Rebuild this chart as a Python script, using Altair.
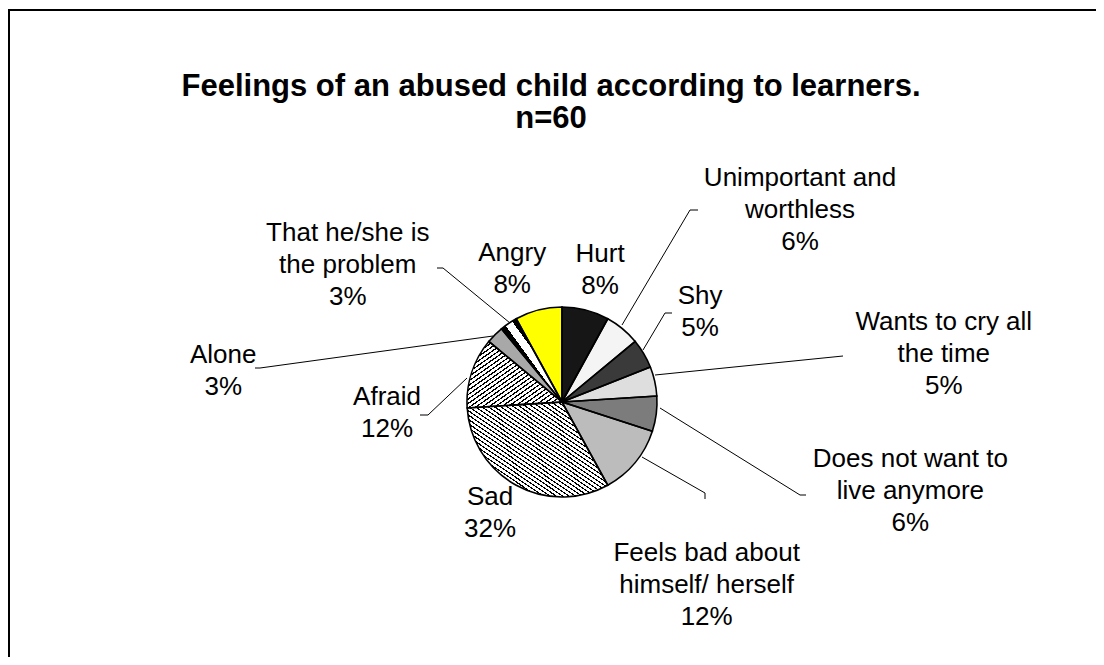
import math
import altair as alt
import pandas as pd

# ---------------- data ----------------
categories = [
    "Hurt", "Unimportant and worthless", "Shy", "Wants to cry all the time",
    "Does not want to live anymore", "Feels bad about himself/ herself",
    "Sad", "Afraid", "Alone", "That he/she is the problem", "Angry",
]
percent = [8, 6, 5, 5, 6, 12, 32, 12, 3, 3, 8]
label_names = [
    "Hurt", "Unimportant and\nworthless", "Shy", "Wants to cry all\nthe time",
    "Does not want to\nlive anymore", "Feels bad about\nhimself/ herself",
    "Sad", "Afraid", "Alone", "That he/she is\nthe problem", "Angry",
]
title_lines = "Feelings of an abused child according to learners.\nn=60"

# ---------------- layout / style ----------------
W, H = 1068, 510
PAD = {"left": 20, "top": 139, "right": 0, "bottom": 0}
R = 95
FONT = "Arial, Liberation Sans, sans-serif"
fills = ["#161616", "#f4f4f4", "#3a3a3a", "#dedede", "#7c7c7c", "#bcbcbc",
         "#ffffff", "#ffffff", "#a8a8a8", "#ffffff", "#ffff00"]
# label placement of the first text line
# (polar: degrees clockwise from 12 o'clock, pixels from the pie centre)
label_angle = [14.4, 46.7, 52.5, 78.2, 99.3, 136.2, 217.2, 271.6, 277.9, 308.3, 341.5]
label_radius = [153, 327, 174, 390, 353, 209, 119, 175, 342, 273, 157]
# leader lines: offsets from the pie centre
leaders = {
    "Unimportant": [(60, -77), (128, -192), (136, -192)],
    "Shy": [(81, -52), (103, -89), (110, -89)],
    "Wants": [(93, -27), (281, -46)],
    "Doesnot": [(98, 6), (238, 93), (244, 93)],
    "Feels": [(80, 55), (143, 91), (143, 97)],
    "Afraid": [(-95, -24), (-134, 13), (-142, 13)],
    "Alone": [(-69, -66), (-302, -34), (-307, -34)],
    "That": [(-52, -79), (-119, -134), (-125, -134)],
}


def stripes(n, frac, fg, bg, x1, y1, x2, y2):
    stops = []
    for k in range(n):
        s = k / n
        m = s + frac / n
        e = (k + 1) / n
        stops += [{"offset": s, "color": fg}, {"offset": m, "color": fg},
                  {"offset": m, "color": bg}, {"offset": e, "color": bg}]
    return {"gradient": "linear", "x1": x1, "y1": y1, "x2": x2, "y2": y2,
            "stops": stops}


stripe_fills = {
    "Sad": stripes(44, 0.32, "#000000", "#ffffff", 0, 1, 1, 0),
    "Afraid": stripes(30, 0.35, "#000000", "#ffffff", 0, 0, 1, 1),
    "That he/she is the problem": stripes(7, 0.45, "#000000", "#ffffff", 0, 1, 1, 0),
}

labels = [f"{n}\n{p}%" for n, p in zip(label_names, percent)]
df = pd.DataFrame({
    "category": categories,
    "percent": percent,
    "order": list(range(len(categories))),
    "label": labels,
    "label_angle": label_angle,
    "label_r": label_radius,
})

rows = []
cx, cy = W / 2, H / 2
for name, pts in leaders.items():
    for i, (dx, dy) in enumerate(pts):
        rows.append({"lead": name, "pt": i, "x": cx + dx, "y": cy + dy})
lead_df = pd.DataFrame(rows)

theta_scale = alt.Scale(domain=[0, 100], range=[0, 2 * math.pi])

base = alt.Chart(df).transform_window(
    cum="sum(percent)", sort=[alt.SortField("order")], frame=[None, 0]
).transform_calculate(start="datum.cum - datum.percent",
                      label_t="datum.label_angle / 3.6")

arcs = base.mark_arc(outerRadius=R).encode(
    theta=alt.Theta("start:Q", scale=theta_scale),
    theta2="cum:Q",
    color=alt.Color("category:N", scale=alt.Scale(domain=categories, range=fills),
                    legend=None),
)

stripe_layers = [
    base.transform_filter(alt.datum.category == cat).mark_arc(
        outerRadius=R, fill=grad).encode(
        theta=alt.Theta("start:Q", scale=theta_scale), theta2="cum:Q")
    for cat, grad in stripe_fills.items()
]

outline = base.mark_arc(outerRadius=R, fillOpacity=0, stroke="black",
                        strokeWidth=1.6).encode(
    theta=alt.Theta("start:Q", scale=theta_scale), theta2="cum:Q")

text = base.mark_text(font=FONT, fontSize=26, lineBreak="\n", lineHeight=32,
                      align="center", baseline="middle", color="black").encode(
    theta=alt.Theta("label_t:Q", scale=theta_scale),
    radius=alt.Radius("label_r:Q", scale=None),
    text="label:N",
)

lines = alt.Chart(lead_df).mark_line(color="black", strokeWidth=1).encode(
    x=alt.X("x:Q", scale=None, axis=None),
    y=alt.Y("y:Q", scale=None, axis=None),
    detail="lead:N",
    order="pt:Q",
)

one = pd.DataFrame({"t": [title_lines]})
title = alt.Chart(one).mark_text(font=FONT, fontSize=31, fontWeight="bold",
                                 lineBreak="\n", lineHeight=32, align="center",
                                 baseline="middle", color="black").encode(
    text="t:N", x=alt.value(W / 2 - 11), y=alt.value(-60))

frame_left = alt.Chart(one).mark_rule(color="black", strokeWidth=2).encode(
    x=alt.value(-19), y=alt.value(-137), y2=alt.value(H + 10))
frame_top = alt.Chart(one).mark_rule(color="black", strokeWidth=2).encode(
    x=alt.value(-20), x2=alt.value(W), y=alt.value(-137))

chart = alt.layer(
    arcs, *stripe_layers, outline, lines, text, title, frame_left, frame_top
).properties(
    width=W, height=H,
    padding=PAD,
    background="white",
    autosize=alt.AutoSizeParams(type="none"),
).configure_view(stroke=None)

chart.save("out.html", embed_options={"renderer": "svg", "actions": False})
